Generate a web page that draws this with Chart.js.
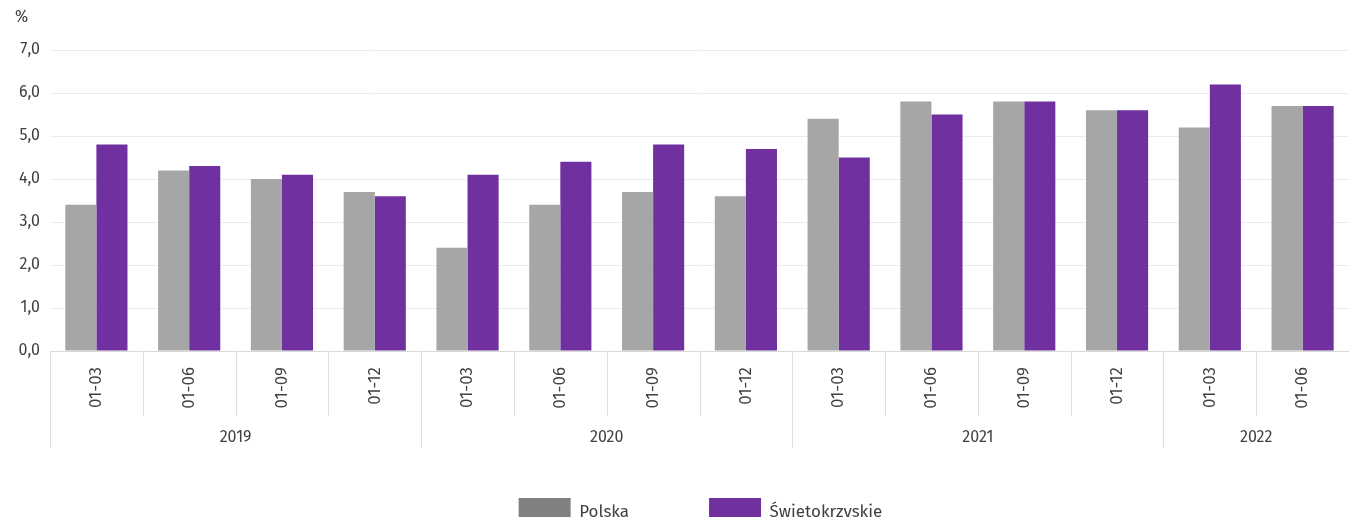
<!DOCTYPE html>
<html>
<head>
<meta charset="utf-8">
<script src="https://cdn.jsdelivr.net/npm/chart.js@4"></script>
<style>
  body { margin: 0; background: #fff; overflow: hidden; }
  #wrap { width: 1349px; height: 517px; overflow: hidden; }
</style>
</head>
<body>
<div id="wrap"><canvas id="chart" width="1349" height="536"></canvas></div>
<script>
const months = ['01-03', '01-06', '01-09', '01-12', '01-03', '01-06', '01-09', '01-12', '01-03', '01-06', '01-09', '01-12', '01-03', '01-06'];
const years = ['2019', '2020', '2021', '2022'];
const yearSpan = [4, 4, 4, 2];
const polska = [3.4, 4.2, 4.0, 3.7, 2.4, 3.4, 3.7, 3.6, 5.4, 5.8, 5.8, 5.6, 5.2, 5.7];
const swietokrzyskie = [4.8, 4.3, 4.1, 3.6, 4.1, 4.4, 4.8, 4.7, 4.5, 5.5, 5.8, 5.6, 6.2, 5.7];
const yTicks = [0, 1, 2, 3, 4, 5, 6, 7];

const FONT = "'Fira Sans', 'Open Sans', 'Noto Sans', sans-serif";
const TEXT = '#404040';

// draws the category/year separators, year labels and the "%" unit
const groupAxis = {
    id: 'groupAxis',
    afterLayout(chart) {
        // legend in the source sits a bit right of centre
        chart.legend.left += 26;
        chart.legend.right += 26;
    },
    afterDraw(chart) {
        const ctx = chart.ctx;
        const x = chart.scales.x;
        const y = chart.scales.y;
        const base = chart.chartArea.bottom;
        const step = x.getPixelForValue(1) - x.getPixelForValue(0);
        const edge = i => x.getPixelForValue(i) - step / 2;

        ctx.save();
        ctx.strokeStyle = '#dedede';
        ctx.lineWidth = 1;
        let start = 0;
        const yearEdges = [0];
        yearSpan.forEach(n => { start += n; yearEdges.push(start); });
        for (let i = 0; i <= months.length; i++) {
            const px = Math.round(edge(i)) + 0.5;
            const isYear = yearEdges.includes(i);
            ctx.beginPath();
            ctx.moveTo(px, base);
            ctx.lineTo(px, base + (isYear ? 97 : 65));
            ctx.stroke();
        }

        ctx.fillStyle = TEXT;
        ctx.font = '16px ' + FONT;
        ctx.textAlign = 'center';
        ctx.textBaseline = 'middle';
        let s = 0;
        years.forEach((yr, k) => {
            const mid = (edge(s) + edge(s + yearSpan[k])) / 2;
            ctx.fillText(yr, mid, base + 87);
            s += yearSpan[k];
        });

        ctx.textAlign = 'left';
        ctx.fillText('%', 15, y.getPixelForValue(7) - 32);
        ctx.restore();
    }
};

const ctx = document.getElementById('chart').getContext('2d');
new Chart(ctx, {
    type: 'bar',
    data: {
        labels: months,
        datasets: [
            {
                label: 'Polska',
                data: polska,
                backgroundColor: '#a6a6a6',
                categoryPercentage: 0.67,
                barPercentage: 1.0
            },
            {
                label: 'Świętokrzyskie',
                data: swietokrzyskie,
                backgroundColor: '#7030a0',
                categoryPercentage: 0.67,
                barPercentage: 1.0
            }
        ]
    },
    options: {
        responsive: false,
        animation: false,
        layout: { padding: { top: 50, right: 0, left: 0, bottom: 0 } },
        plugins: {
            tooltip: { enabled: false },
            legend: {
                position: 'bottom',
                labels: {
                    boxWidth: 52,
                    boxHeight: 28,
                    padding: 80,
                    color: TEXT,
                    font: { family: FONT, size: 17 },
                    generateLabels(chart) {
                        const swatch = ['#808080', '#7030a0'];
                        return chart.data.datasets.map((d, i) => ({
                            text: d.label,
                            fillStyle: swatch[i],
                            strokeStyle: swatch[i],
                            lineWidth: 0,
                            fontColor: TEXT,
                            datasetIndex: i
                        }));
                    }
                }
            }
        },
        scales: {
            x: {
                grid: { display: false },
                border: { color: '#d9d9d9' },
                afterFit(scale) { scale.height = 67; },
                ticks: {
                    color: TEXT,
                    minRotation: 90,
                    maxRotation: 90,
                    padding: 8,
                    font: { family: FONT, size: 17 }
                }
            },
            y: {
                min: 0,
                max: 7,
                afterFit(scale) { scale.width = 50; },
                afterBuildTicks(scale) { scale.ticks = yTicks.map(v => ({ value: v })); },
                border: { display: false },
                grid: { color: '#ececec', drawTicks: false },
                ticks: {
                    color: TEXT,
                    padding: 10,
                    font: { family: FONT, size: 16 },
                    callback: v => v.toFixed(1).replace('.', ',')
                }
            }
        }
    },
    plugins: [groupAxis]
});
</script>
</body>
</html>
